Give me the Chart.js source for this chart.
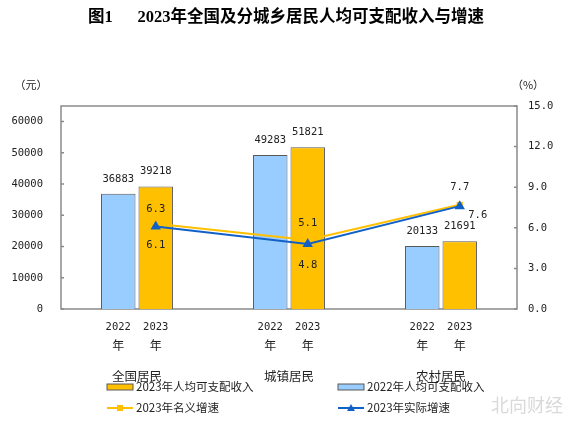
<!DOCTYPE html>
<html>
<head>
<meta charset="utf-8">
<script src="https://cdn.jsdelivr.net/npm/chart.js@4.4.0/dist/chart.umd.min.js"></script>
<style>
  html, body { margin: 0; padding: 0; background: #fff; }
  #wrap { width: 572px; height: 423px; }
</style>
</head>
<body>
<div id="wrap"><canvas id="c" width="572" height="423"></canvas></div>
<script>
const categories = ['全国居民', '城镇居民', '农村居民'];
const years = ['2022', '2023'];
const income2022 = [36883, 49283, 20133];
const income2023 = [39218, 51821, 21691];
const nominalGrowth = [6.3, 5.1, 7.7];
const realGrowth = [6.1, 4.8, 7.6];
const incomeTicks = [0, 10000, 20000, 30000, 40000, 50000, 60000];
const growthTicks = [0, 3, 6, 9, 12, 15];

const MONO = '"DejaVu Sans Mono", monospace';
const CJK = '"Noto Sans CJK SC", sans-serif';
const ORANGE = '#FFC000';
const LIGHTBLUE = '#99CCFF';
const BLUE = '#1160C8';
const EDGE = '#5a5a5a';
const TEXT = '#222';

// label offsets (px) for the growth numbers
const nominalOffset = [[0, -14], [0, -17], [0, -18]];
const realOffset = [[0, 19], [0, 21], [18, 9]];

const extras = {
  id: 'extras',
  afterDatasetsUpdate(chart) {
    // growth points sit on the 2023 bar of each group
    const bars = chart.getDatasetMeta(3).data;
    [0, 1].forEach(i => chart.getDatasetMeta(i).data.forEach((p, j) => { p.x = bars[j].x; }));
  },
  beforeDatasetsDraw(chart) {
    const { ctx, chartArea: a, scales } = chart;
    ctx.save();
    ctx.strokeStyle = '#8a8a8a';
    ctx.lineWidth = 1.5;
    ctx.strokeRect(a.left, a.top, a.right - a.left, a.bottom - a.top);
    ctx.beginPath();
    scales.y.ticks.forEach(t => {
      const y = scales.y.getPixelForValue(t.value);
      ctx.moveTo(a.left, y); ctx.lineTo(a.left + 3, y);
    });
    scales.y1.ticks.forEach(t => {
      const y = scales.y1.getPixelForValue(t.value);
      ctx.moveTo(a.right, y); ctx.lineTo(a.right - 3, y);
    });
    ctx.stroke();
    ctx.restore();
  },
  afterDatasetsDraw(chart) {
    const { ctx } = chart;
    ctx.save();
    ctx.fillStyle = TEXT;
    ctx.textAlign = 'center';
    ctx.textBaseline = 'middle';
    ctx.font = '10.5px ' + MONO;
    [2, 3].forEach(i => {
      const ds = chart.data.datasets[i];
      chart.getDatasetMeta(i).data.forEach((b, j) => {
        ctx.fillText(String(ds.data[j]), b.x, b.y - 15);
      });
    });
    const draw = (i, offs) => {
      const ds = chart.data.datasets[i];
      chart.getDatasetMeta(i).data.forEach((p, j) => {
        ctx.fillText(ds.data[j].toFixed(1), p.x + offs[j][0], p.y + offs[j][1]);
      });
    };
    draw(1, nominalOffset);
    draw(0, realOffset);
    ctx.restore();
  },
  afterDraw(chart) {
    const { ctx } = chart;
    ctx.save();
    ctx.fillStyle = TEXT;
    ctx.textBaseline = 'middle';
    ctx.textAlign = 'center';

    // units
    ctx.font = '11px ' + CJK;
    ctx.fillText('（元）', 31, 85);
    ctx.fillText('（%）', 528, 85);

    // year under each bar
    [2, 3].forEach((i, k) => {
      chart.getDatasetMeta(i).data.forEach(b => {
        ctx.font = '10.5px ' + MONO;
        ctx.fillText(years[k], b.x, 327);
        ctx.font = '12px ' + CJK;
        ctx.fillText('年', b.x, 345);
      });
    });

    // legend (2 x 2)
    const ds = chart.data.datasets;
    const items = [
      { d: ds[3], x: 107, y: 387, box: true },
      { d: ds[2], x: 338, y: 387, box: true },
      { d: ds[1], x: 107, y: 408, box: false },
      { d: ds[0], x: 338, y: 408, box: false }
    ];
    ctx.textAlign = 'left';
    items.forEach(it => {
      if (it.box) {
        ctx.fillStyle = it.d.backgroundColor;
        ctx.fillRect(it.x, it.y - 3, 26, 6);
        ctx.strokeStyle = EDGE;
        ctx.lineWidth = 1;
        ctx.strokeRect(it.x, it.y - 3, 26, 6);
      } else {
        ctx.strokeStyle = it.d.borderColor;
        ctx.lineWidth = 2;
        ctx.beginPath();
        ctx.moveTo(it.x, it.y); ctx.lineTo(it.x + 26, it.y);
        ctx.stroke();
        ctx.fillStyle = it.d.borderColor;
        const cx = it.x + 13;
        if (it.d.pointStyle === 'rect') {
          ctx.fillRect(cx - 3, it.y - 3, 6, 6);
        } else {
          ctx.beginPath();
          ctx.moveTo(cx, it.y - 4); ctx.lineTo(cx + 4, it.y + 3); ctx.lineTo(cx - 4, it.y + 3);
          ctx.closePath(); ctx.fill();
        }
      }
      ctx.fillStyle = TEXT;
      ctx.font = '11.5px ' + CJK;
      ctx.fillText(it.d.label, it.x + 29, it.y);
    });

    // watermark
    ctx.textAlign = 'center';
    ctx.font = '18px ' + CJK;
    ctx.fillStyle = '#d9d9d9';
    ctx.fillText('北向财经', 527, 405);
    ctx.restore();
  }
};

new Chart(document.getElementById('c'), {
  data: {
    labels: categories,
    datasets: [
      {
        type: 'line', label: '2023年实际增速', data: realGrowth, yAxisID: 'y1', order: 0,
        borderColor: BLUE, backgroundColor: BLUE, borderWidth: 2,
        pointStyle: 'triangle', pointRadius: 4, pointBackgroundColor: BLUE, pointBorderColor: BLUE
      },
      {
        type: 'line', label: '2023年名义增速', data: nominalGrowth, yAxisID: 'y1', order: 1,
        borderColor: ORANGE, backgroundColor: ORANGE, borderWidth: 2,
        pointStyle: 'rect', pointRadius: 3, pointBackgroundColor: ORANGE, pointBorderColor: ORANGE
      },
      {
        type: 'bar', label: '2022年人均可支配收入', data: income2022, yAxisID: 'y', order: 2,
        backgroundColor: LIGHTBLUE, borderColor: EDGE, borderWidth: 1,
        categoryPercentage: 0.493, barPercentage: 0.92
      },
      {
        type: 'bar', label: '2023年人均可支配收入', data: income2023, yAxisID: 'y', order: 2,
        backgroundColor: ORANGE, borderColor: EDGE, borderWidth: 1,
        categoryPercentage: 0.493, barPercentage: 0.92
      }
    ]
  },
  options: {
    responsive: false,
    animation: false,
    layout: { padding: 0 },
    plugins: {
      legend: { display: false },
      tooltip: { enabled: false },
      title: {
        display: true,
        text: '图1\u3000\u20022023年全国及分城乡居民人均可支配收入与增速',
        color: '#000',
        font: { family: '"Liberation Serif", "Noto Sans CJK SC", serif', size: 16.5, weight: 'bold' },
        padding: { top: 8, bottom: 78.2 }
      }
    },
    scales: {
      x: {
        grid: { display: false, drawTicks: false },
        border: { display: false },
        ticks: { color: TEXT, font: { family: CJK, size: 12.5 }, padding: 60 },
        afterFit(s) { s.height = 114; }
      },
      y: {
        position: 'left',
        min: 0, max: 65000,
        grid: { display: false, drawTicks: false },
        border: { display: false },
        ticks: { color: TEXT, font: { family: MONO, size: 10.5 }, padding: 18,
                 callback: v => String(v) },
        afterBuildTicks(s) { s.ticks = incomeTicks.map(v => ({ value: v })); },
        afterFit(s) { s.width = 61; }
      },
      y1: {
        position: 'right',
        min: 0, max: 15,
        grid: { display: false, drawTicks: false },
        border: { display: false },
        ticks: { color: TEXT, font: { family: MONO, size: 10.5 }, padding: 11,
                 callback: v => Number(v).toFixed(1) },
        afterBuildTicks(s) { s.ticks = growthTicks.map(v => ({ value: v })); },
        afterFit(s) { s.width = 55; }
      }
    }
  },
  plugins: [extras]
});
</script>
</body>
</html>
